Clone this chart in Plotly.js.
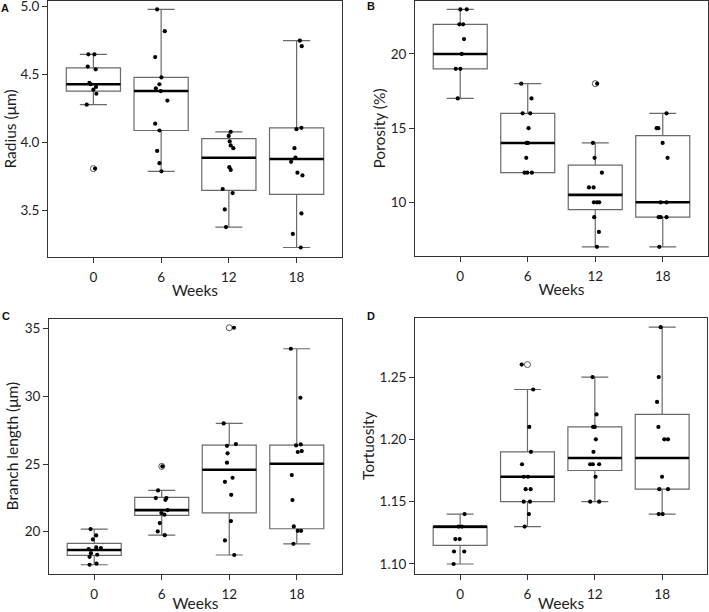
<!DOCTYPE html>
<html>
<head>
<meta charset="utf-8">
<script src="https://cdn.plot.ly/plotly-3.0.1.min.js"></script>
<style>html,body{margin:0;padding:0;background:#fff;}#chart{width:709px;height:612px;}</style>
</head>
<body>
<div id="chart"></div>
<script>
// ---------- categories ----------
const weeks = ['0', '6', '12', '18'];

// ---------- Panel A: Radius (µm) ----------
const radiusQ1 = [4.38, 4.09, 3.65, 3.62];
const radiusMedian = [4.43, 4.38, 3.89, 3.88];
const radiusQ3 = [4.55, 4.48, 4.03, 4.11];
const radiusLow = [4.28, 3.79, 3.38, 3.23];
const radiusHigh = [4.65, 4.98, 4.08, 4.75];
const radiusOutliers = [[3.81], [], [], []];
const radiusPoints = [
  [4.65, 4.65, 4.56, 4.54, 4.44, 4.43, 4.39, 4.41, 4.36, 4.28, 3.81],
  [4.98, 4.82, 4.63, 4.48, 4.43, 4.40, 4.38, 4.31, 4.14, 4.09, 3.94, 3.85, 3.79],
  [4.08, 4.05, 4.01, 3.98, 3.96, 3.82, 3.80, 3.66, 3.63, 3.51, 3.38],
  [4.75, 4.71, 4.10, 4.11, 3.96, 3.89, 3.86, 3.78, 3.76, 3.48, 3.33, 3.23]
];
const radiusJitter = [
  [-0.074, 0.015, -0.083, 0.034, -0.059, -0.039, 0, 0.039, 0.044, -0.098, 0.025],
  [-0.059, 0.054, -0.088, 0.005, -0.025, -0.078, -0.005, 0.093, -0.088, -0.025, -0.059, -0.025, 0.005],
  [0.027, -0.002, 0.012, 0.027, 0.066, 0.007, 0.027, -0.091, 0.056, -0.061, -0.042],
  [0.047, 0.076, -0.002, 0.071, -0.032, -0.017, -0.081, 0.012, 0.086, 0.071, -0.056, 0.061]
];

// ---------- Panel B: Porosity (%) ----------
const porosityQ1 = [19, 12, 9.5, 9];
const porosityMedian = [20, 14, 10.5, 10];
const porosityQ3 = [22, 16, 12.5, 14.5];
const porosityLow = [17, 12, 7, 7];
const porosityHigh = [23, 18, 14, 16];
const porosityOutliers = [[], [], [18], []];
const porosityPoints = [
  [23, 23, 22, 22, 21, 20, 19, 19, 17],
  [18, 17, 16, 16, 15, 14, 14, 13, 12, 12, 12],
  [18, 14, 13, 12, 11, 11, 10, 10, 10, 9, 8, 7],
  [16, 15, 15, 14, 13, 10, 10, 9, 9, 9, 7]
];
const porosityJitter = [
  [0.002, 0.096, -0.012, 0.042, 0.056, 0.022, -0.066, 0.002, -0.037],
  [-0.096, 0.056, -0.076, 0.037, 0.012, -0.017, 0.002, -0.022, -0.047, -0.007, 0.061],
  [0.029, -0.034, -0.010, 0.098, -0.093, -0.025, -0.020, 0.025, 0.059, -0.015, 0.054, 0.025],
  [0.056, -0.091, -0.066, -0.002, 0.071, -0.032, 0.056, -0.061, -0.032, 0.056, -0.051]
];

// ---------- Panel C: Branch length (µm) ----------
const branchQ1 = [18.25, 21.21, 21.40, 20.22];
const branchMedian = [18.65, 21.60, 24.58, 25.02];
const branchQ3 = [19.14, 22.54, 26.40, 26.40];
const branchLow = [17.56, 19.75, 18.28, 19.11];
const branchHigh = [20.20, 23.05, 28.00, 33.52];
const branchOutliers = [[], [24.83], [35.07], []];
const branchPoints = [
  [20.2, 19.73, 19.43, 18.72, 18.84, 18.79, 18.42, 18.3, 18.15, 17.56, 17.64],
  [24.83, 23.05, 22.49, 22.49, 22.36, 21.38, 21.26, 21.6, 20.64, 20.02, 19.75],
  [35.07, 28.0, 26.35, 26.48, 25.79, 25.10, 23.69, 23.99, 22.73, 20.79, 19.36, 18.28],
  [33.52, 29.9, 26.38, 26.45, 25.89, 25.96, 24.19, 22.34, 20.39, 20.07, 20.07, 19.11]
];
const branchJitter = [
  [-0.054, 0.029, -0.020, -0.083, 0.029, 0.098, -0.049, 0.044, -0.069, -0.069, 0.034],
  [0.010, -0.054, -0.088, 0.069, 0.054, -0.005, 0.039, 0.088, -0.029, -0.059, 0.044],
  [0.069, -0.083, -0.034, 0.098, -0.025, -0.034, -0.064, 0.049, 0.029, 0.025, -0.064, 0.074],
  [-0.088, 0.054, -0.010, 0.059, 0.015, 0.074, -0.074, -0.064, -0.044, 0.015, 0.064, -0.049]
];

// ---------- Panel D: Tortuosity ----------
const tortQ1 = [1.115, 1.15, 1.175, 1.16];
const tortMedian = [1.13, 1.17, 1.185, 1.185];
const tortQ3 = [1.13, 1.19, 1.21, 1.22];
const tortLow = [1.10, 1.13, 1.15, 1.14];
const tortHigh = [1.14, 1.24, 1.25, 1.29];
const tortOutliers = [[], [1.26], [], []];
const tortPoints = [
  [1.14, 1.13, 1.13, 1.12, 1.12, 1.11, 1.11, 1.10],
  [1.26, 1.24, 1.21, 1.19, 1.18, 1.17, 1.17, 1.16, 1.16, 1.15, 1.15, 1.14, 1.13],
  [1.25, 1.22, 1.21, 1.21, 1.20, 1.19, 1.18, 1.18, 1.18, 1.17, 1.15, 1.15],
  [1.29, 1.25, 1.23, 1.21, 1.20, 1.20, 1.17, 1.16, 1.16, 1.14, 1.14]
];
const tortJitter = [
  [0.066, -0.022, 0.027, -0.071, -0.007, -0.091, 0.061, -0.096],
  [-0.086, 0.086, 0.027, 0.051, -0.081, -0.056, 0.007, -0.027, 0.047, -0.056, 0.037, 0.022, -0.042],
  [-0.034, 0.025, -0.025, 0, 0.015, -0.020, -0.069, -0.029, 0.064, 0.010, -0.069, 0.064],
  [-0.022, -0.051, -0.076, -0.056, 0.032, 0.086, -0.002, -0.042, 0.086, -0.051, 0.007]
];

// ---------- build ----------
const BOXW = 0.8;
const FONT = 'Lato, "Open Sans", sans-serif';
const TXT = '#1e1e1e';
const pos = weeks.map((w, i) => i);

function panel(xa, ya, q1, med, q3, lo, hi, outl, pts, jit) {
  const traces = [];
  traces.push({
    type: 'box', xaxis: xa, yaxis: ya, x: pos,
    q1: q1, median: med, q3: q3, lowerfence: lo, upperfence: hi,
    width: BOXW, whiskerwidth: 0.5, boxpoints: false,
    fillcolor: '#ffffff', line: {color: '#6a6a6a', width: 1.2},
    showlegend: false, hoverinfo: 'skip'
  });
  // thick median segments, built from the median array
  const mx = [], my = [];
  med.forEach((m, i) => { mx.push(i - BOXW / 2, i + BOXW / 2, null); my.push(m, m, null); });
  traces.push({type: 'scatter', mode: 'lines', xaxis: xa, yaxis: ya, x: mx, y: my,
    line: {color: '#000', width: 2.6}, showlegend: false, hoverinfo: 'skip'});
  // outliers (open circles)
  const ox = [], oy = [];
  outl.forEach((arr, i) => arr.forEach(v => { ox.push(i); oy.push(v); }));
  traces.push({type: 'scatter', mode: 'markers', xaxis: xa, yaxis: ya, x: ox, y: oy,
    marker: {symbol: 'circle-open', size: 6, color: '#555', line: {width: 1}},
    showlegend: false, hoverinfo: 'skip'});
  // jittered points
  const px = [], py = [];
  pts.forEach((arr, i) => arr.forEach((v, k) => { px.push(i + jit[i][k]); py.push(v); }));
  traces.push({type: 'scatter', mode: 'markers', xaxis: xa, yaxis: ya, x: px, y: py,
    marker: {symbol: 'circle', size: 4.2, color: '#000'},
    showlegend: false, hoverinfo: 'skip'});
  return traces;
}

const data = [].concat(
  panel('x', 'y', radiusQ1, radiusMedian, radiusQ3, radiusLow, radiusHigh, radiusOutliers, radiusPoints, radiusJitter),
  panel('x2', 'y2', porosityQ1, porosityMedian, porosityQ3, porosityLow, porosityHigh, porosityOutliers, porosityPoints, porosityJitter),
  panel('x3', 'y3', branchQ1, branchMedian, branchQ3, branchLow, branchHigh, branchOutliers, branchPoints, branchJitter),
  panel('x4', 'y4', tortQ1, tortMedian, tortQ3, tortLow, tortHigh, tortOutliers, tortPoints, tortJitter)
);

function xaxis(domain, anchor) {
  return {
    domain: domain, anchor: anchor, range: [-0.67, 3.67],
    tickmode: 'array', tickvals: pos, ticktext: weeks,
    showline: true, mirror: true, linecolor: '#333', linewidth: 1,
    ticks: 'outside', ticklen: 5, tickcolor: '#333', tickwidth: 1,
    ticklabelstandoff: 3, ticklabeloverflow: 'allow',
    showgrid: false, zeroline: false,
    tickfont: {family: FONT, size: 13.5, color: TXT},
    title: {text: 'Weeks', font: {family: FONT, size: 15.5, color: TXT}, standoff: 0}
  };
}
function yaxis(domain, anchor, range, tickvals, fmt, title, standoff) {
  return {
    domain: domain, anchor: anchor, range: range,
    tickmode: 'array', tickvals: tickvals, tickformat: fmt,
    showline: true, mirror: true, linecolor: '#333', linewidth: 1,
    ticks: 'outside', ticklen: 5, tickcolor: '#333', tickwidth: 1,
    ticklabelstandoff: 0, ticklabeloverflow: 'allow',
    showgrid: false, zeroline: false,
    tickfont: {family: FONT, size: 13.5, color: TXT},
    title: {text: title, font: {family: FONT, size: 15.5, color: TXT}, standoff: standoff}
  };
}

const W = 709, H = 612;
const layout = {
  width: W, height: H,
  margin: {l: 0, r: 0, t: 0, b: 0},
  paper_bgcolor: '#fff', plot_bgcolor: '#fff',
  showlegend: false,
  xaxis: xaxis([48 / W, 342 / W], 'y'),
  yaxis: yaxis([1 - 257 / H, 1 - 1 / H], 'x', [3.16, 5.042], [3.5, 4.0, 4.5, 5.0], '.1f', 'Radius (μm)', 0),
  xaxis2: xaxis([415 / W, 708 / W], 'y2'),
  yaxis2: yaxis([1 - 256 / H, 1 - 1 / H], 'x2', [6.38, 23.57], [10, 15, 20], 'd', 'Porosity (%)', 1),
  xaxis3: xaxis([49 / W, 342 / W], 'y3'),
  yaxis3: yaxis([1 - 573.7 / H, 1 - 318.7 / H], 'x3', [16.9, 35.74], [20, 25, 30, 35], 'd', 'Branch length (μm)', 2),
  xaxis4: xaxis([415 / W, 707.3 / W], 'y4'),
  yaxis4: yaxis([1 - 573.7 / H, 1 - 317.7 / H], 'x4', [1.0922, 1.2976], [1.10, 1.15, 1.20, 1.25], '.2f', 'Tortuosity', 1),
  annotations: [
    ['A', 5, 8], ['B', 371, 6], ['C', 6, 316], ['D', 371, 316]
  ].map(([t, x, y]) => ({
    text: '<b>' + t + '</b>', xref: 'paper', yref: 'paper', x: x / W, y: 1 - y / H,
    xanchor: 'center', yanchor: 'middle', showarrow: false,
    font: {family: '"Liberation Sans", Arial, sans-serif', size: 11, color: '#111'}
  }))
};

Plotly.newPlot('chart', data, layout, {displayModeBar: false, staticPlot: true});
</script>
</body>
</html>
